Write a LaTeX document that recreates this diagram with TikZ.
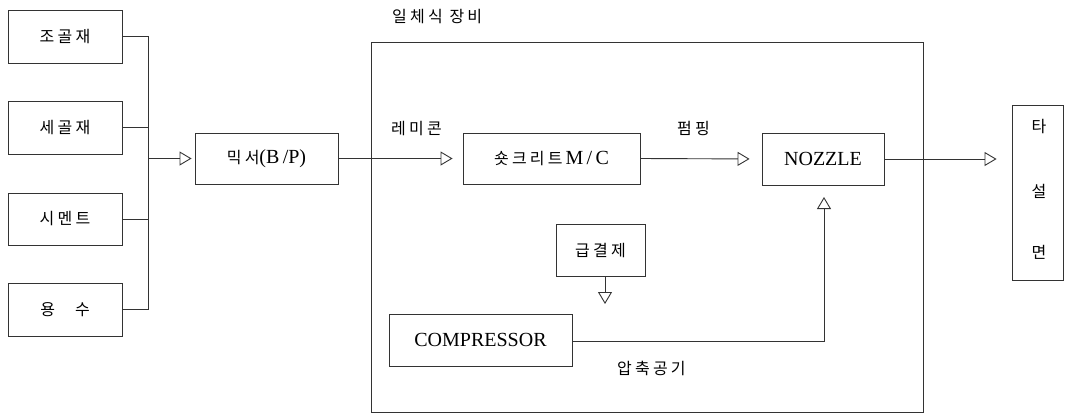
\documentclass[tikz,border=0pt]{standalone}
\usepackage{fontspec}
\setmainfont{Liberation Serif}
\newfontfamily\kr[LetterSpace=20]{Noto Sans CJK KR}
\usetikzlibrary{arrows.meta}
\begin{document}
\begin{tikzpicture}[x=1pt,y=-1pt,
  box/.style={draw=black!80,line width=0.9pt,rectangle,inner sep=0pt,font=\fontsize{20}{22}\selectfont},
  ln/.style={draw=black!80,line width=0.9pt},
  arr/.style={ln,-{Triangle[open,length=12pt,width=14pt,line width=0.9pt]}},
  lbl/.style={font=\fontsize{16}{18}\selectfont\kr,inner sep=0pt}]
\useasboundingbox (0,0) rectangle (1067,416);
% input boxes
\node[box,minimum width=114pt,minimum height=53pt] (jo) at (65,36.5) {\fontsize{16}{18}\selectfont\kr 조골재};
\node[box,minimum width=114pt,minimum height=53pt] (se) at (65,127.5) {\fontsize{16}{18}\selectfont\kr 세골재};
\node[box,minimum width=114pt,minimum height=52pt] (si) at (65,219) {\fontsize{16}{18}\selectfont\kr 시멘트};
\node[box,minimum width=114pt,minimum height=53pt] (yong) at (65,309.5) {\fontsize{16}{18}\selectfont\kr 용\hspace{20pt}수};
% mixer
\node[box,minimum width=143pt,minimum height=51pt] (mix) at (266.5,158.5) {{\fontsize{16}{18}\selectfont\kr 믹서}(B\,/P)};
% integrated equipment frame
\node[box,minimum width=552pt,minimum height=370pt] (big) at (647,227) {};
\node[lbl,anchor=west] (title) at (392,17) {일체식 장비};
\node[box,minimum width=177pt,minimum height=51pt] (shot) at (551.5,158.5) {{\fontsize{16}{18}\selectfont\kr 숏크리트}\hspace{3pt}M\,/\,C};
\node[box,minimum width=122pt,minimum height=52pt] (noz) at (823,159) {NOZZLE};
\node[box,minimum width=89pt,minimum height=52pt] (geul) at (600.5,250) {\fontsize{16}{18}\selectfont\kr 급결제};
\node[box,minimum width=183pt,minimum height=52pt] (comp) at (480.5,340) {COMPRESSOR};
\node[box,minimum width=51pt,minimum height=175pt] (ta) at (1037.5,192.5) {};
\node[lbl] (ta1) at (1039,127) {타};
\node[lbl] (ta2) at (1039,191) {설};
\node[lbl] (ta3) at (1039,252) {면};
% labels
\node[lbl,anchor=west] (remi) at (391,129) {레미콘};
\node[lbl,anchor=west] (pump) at (677,128) {펌핑};
\node[lbl,anchor=west] (air) at (617,368) {압축공기};
% bus
\coordinate (b1) at (148,36.5);
\coordinate (b4) at (148,309.5);
\draw[ln] (jo.east) -- (b1) -- (b4) -- (yong.east);
\draw[ln] (se.east) -- (se.east -| b1);
\draw[ln] (si.east) -- (si.east -| b1);
\draw[arr,shorten >=3pt] (mix.west -| b1) -- (mix.west);
% main flow
\draw[arr,shorten >=10pt] (mix.east) -- (shot.west);
\draw[arr,shorten >=12pt] (shot.east) -- (noz.west);
\draw[arr,shorten >=15pt] (noz.east) -- (noz.east -| ta.west);
% accelerator
\coordinate (gtip) at (605,304);
\draw[arr] (geul.south -| gtip) -- (gtip);
% compressed air
\coordinate (ac) at (824,341);
\coordinate (atip) at (824,197);
\draw[ln] (comp.east |- ac) -- (ac) -- (824,216);
\draw[arr] (824,216) -- (atip);
\end{tikzpicture}
\end{document}
